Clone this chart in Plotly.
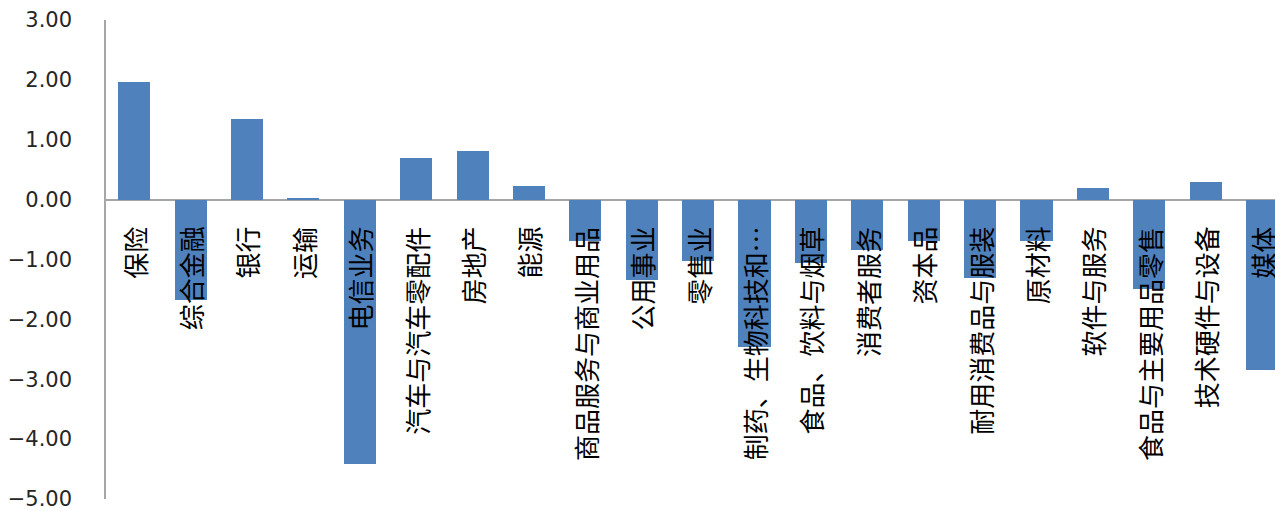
import plotly.graph_objects as go

categories = ["保险", "综合金融", "银行", "运输", "电信业务", "汽车与汽车零配件", "房地产", "能源",
              "商品服务与商业用品", "公用事业", "零售业", "制药、生物科技和…", "食品、饮料与烟草",
              "消费者服务", "资本品", "耐用消费品与服装", "原材料", "软件与服务",
              "食品与主要用品零售", "技术硬件与设备", "媒体"]
values = [1.96, -1.68, 1.35, 0.03, -4.42, 0.69, 0.82, 0.22, -0.69, -1.35, -1.03, -2.46, -1.06,
          -0.84, -0.69, -1.31, -0.69, 0.20, -1.50, 0.30, -2.85]
y_ticks = [-5, -4, -3, -2, -1, 0, 1, 2, 3]

idx = list(range(len(categories)))

fig = go.Figure()
fig.add_trace(go.Bar(x=idx, y=values, width=0.57, marker=dict(color="#4F81BD", line=dict(width=0))))

for i, c in enumerate(categories):
    fig.add_annotation(x=i, y=0, xref="x", yref="y", text=c, textangle=-90, showarrow=False,
                       yanchor="top", xanchor="center", yshift=-25,
                       font=dict(family="Noto Sans CJK SC", size=26, color="#000000"))

fig.update_layout(
    width=1275, height=503,
    margin=dict(l=94, r=0, t=11, b=12),
    plot_bgcolor="white", paper_bgcolor="white",
    showlegend=False,
    bargap=0,
    xaxis=dict(range=[-0.5, 20.37], showticklabels=False, showgrid=False, zeroline=False,
               showline=False, ticks=""),
    yaxis=dict(range=[-5, 3], tickvals=y_ticks, tickformat=".2f", showgrid=False,
               zeroline=True, zerolinecolor="#A6A6A6", zerolinewidth=1.5,
               showline=True, linecolor="#A6A6A6", linewidth=1.5, ticks="",
               ticklabelstandoff=28, ticklabeloverflow="allow",
               tickfont=dict(family="DejaVu Sans", size=21, color="#262626")),
)

fig.write_html("out.html")
